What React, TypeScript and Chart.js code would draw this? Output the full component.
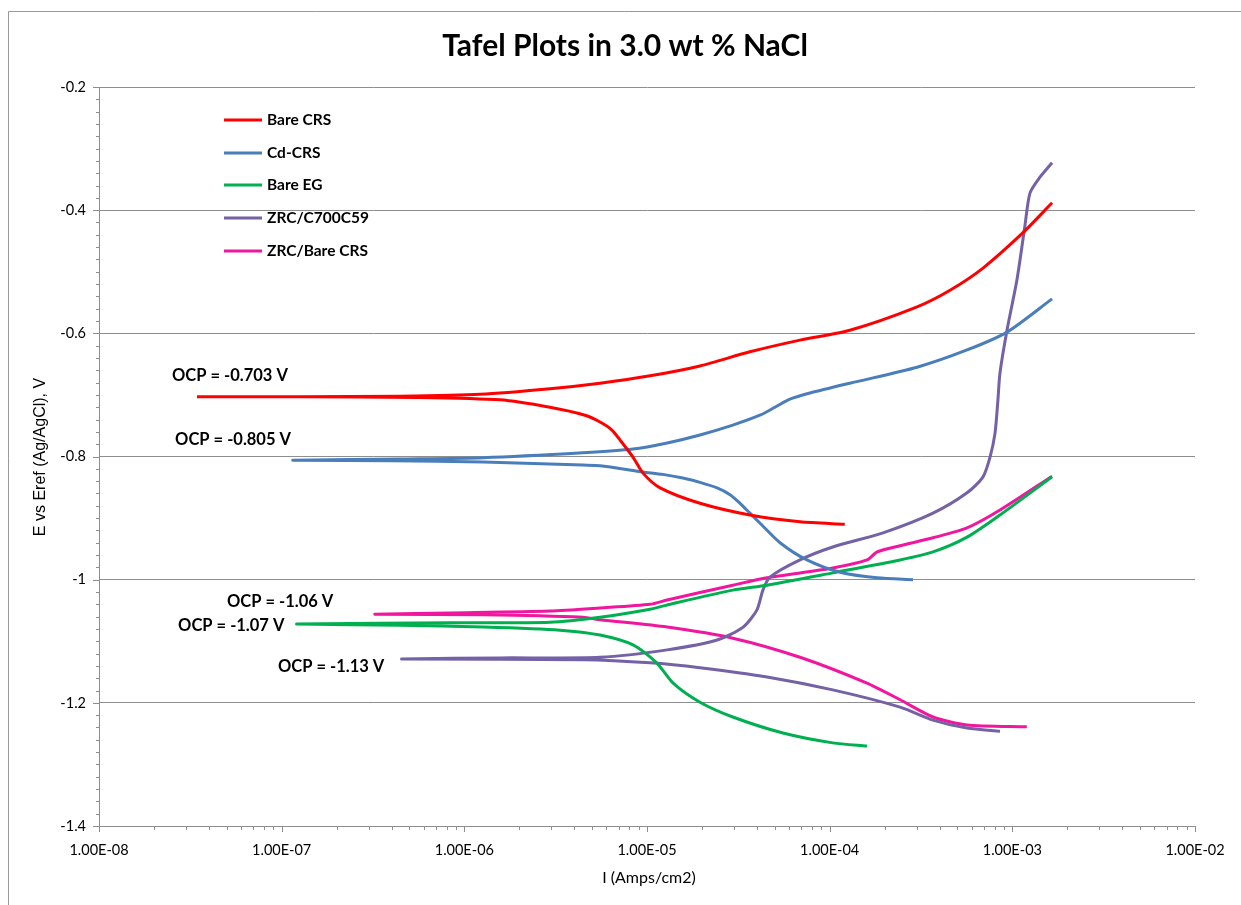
import { useEffect, useRef } from "react";
import { Chart, registerables } from "chart.js";

Chart.register(...registerables);

// ---------- data (current in A/cm2, potential in V vs Ag/AgCl) ----------
const seriesLabels = ["Bare CRS", "Cd-CRS", "Bare EG", "ZRC/C700C59", "ZRC/Bare CRS"];
const seriesColors = ["#FF0000", "#4A7EBB", "#00AF50", "#7461A6", "#F0179E"];

const bareCrsCurrent = [1.21e-4, 6.88e-5, 3.66e-5, 1.95e-5, 1.18e-5, 9.51e-6, 8.38e-6, 7.11e-6, 6.43e-6, 5.53e-6, 4.58e-6, 2.94e-6, 1.57e-6, 5.51e-7, 1.26e-7, 3.44e-8, 1.26e-7, 4.44e-7, 1.22e-6, 2.94e-6, 5.53e-6, 1.04e-5, 1.95e-5, 3.66e-5, 6.88e-5, 1.29e-4, 3.01e-4, 4.56e-4, 6.91e-4, 1.14e-3, 1.65e-3];
const bareCrsPotential = [-0.910, -0.906, -0.895, -0.876, -0.851, -0.827, -0.801, -0.773, -0.757, -0.744, -0.733, -0.720, -0.708, -0.704, -0.703, -0.703, -0.703, -0.702, -0.699, -0.690, -0.681, -0.669, -0.653, -0.630, -0.611, -0.595, -0.557, -0.530, -0.494, -0.437, -0.388];

const cdCrsCurrent = [2.86e-4, 1.82e-4, 1.14e-4, 7.51e-5, 5.35e-5, 4.15e-5, 3.66e-5, 3.23e-5, 2.85e-5, 2.42e-5, 1.95e-5, 1.57e-5, 1.22e-5, 9.51e-6, 5.53e-6, 4.46e-6, 1.27e-6, 4.0e-7, 1.15e-7, 4.44e-7, 1.27e-6, 4.46e-6, 8.38e-6, 1.29e-5, 1.95e-5, 2.95e-5, 4.15e-5, 5.02e-5, 6.06e-5, 7.8e-5, 1.29e-4, 3.01e-4, 5.65e-4, 9.35e-4, 1.65e-3];
const cdCrsPotential = [-1.000, -0.997, -0.988, -0.968, -0.940, -0.908, -0.892, -0.876, -0.862, -0.851, -0.842, -0.835, -0.829, -0.825, -0.815, -0.814, -0.809, -0.807, -0.806, -0.804, -0.802, -0.794, -0.788, -0.778, -0.765, -0.749, -0.733, -0.720, -0.707, -0.697, -0.681, -0.655, -0.627, -0.598, -0.544];

const bareEgCurrent = [1.60e-4, 1.04e-4, 5.55e-5, 2.95e-5, 1.95e-5, 1.39e-5, 1.13e-5, 8.38e-6, 5.53e-6, 3.34e-6, 1.27e-6, 4.44e-7, 1.21e-7, 8.34e-7, 2.94e-6, 5.53e-6, 1.04e-5, 1.29e-5, 2.95e-5, 4.54e-5, 1.04e-4, 2.43e-4, 3.68e-4, 5.65e-4, 8.56e-4, 1.65e-3];
const bareEgPotential = [-1.270, -1.265, -1.249, -1.223, -1.199, -1.168, -1.135, -1.106, -1.090, -1.082, -1.077, -1.074, -1.072, -1.070, -1.069, -1.061, -1.048, -1.041, -1.017, -1.009, -0.989, -0.968, -0.955, -0.931, -0.895, -0.833];

const zrcC700Current = [8.56e-4, 5.65e-4, 3.68e-4, 2.43e-4, 1.04e-4, 4.54e-5, 1.95e-5, 1.04e-5, 4.46e-6, 4.56e-7, 1.57e-6, 5.53e-6, 1.29e-5, 2.42e-5, 3.36e-5, 4.00e-5, 4.31e-5, 4.71e-5, 6.88e-5, 1.04e-4, 1.96e-4, 3.68e-4, 5.65e-4, 6.91e-4, 7.55e-4, 8.04e-4, 8.34e-4, 8.56e-4, 9.35e-4, 1.06e-3, 1.17e-3, 1.25e-3, 1.42e-3, 1.65e-3];
const zrcC700Potential = [-1.246, -1.241, -1.228, -1.207, -1.179, -1.158, -1.143, -1.135, -1.130, -1.129, -1.127, -1.126, -1.114, -1.098, -1.077, -1.049, -1.017, -0.996, -0.968, -0.947, -0.924, -0.892, -0.859, -0.833, -0.801, -0.762, -0.708, -0.664, -0.595, -0.513, -0.427, -0.372, -0.346, -0.323];

const zrcBareCrsCurrent = [1.20e-3, 5.65e-4, 3.68e-4, 2.43e-4, 1.60e-4, 6.88e-5, 2.95e-5, 1.29e-5, 5.53e-6, 4.46e-6, 1.27e-6, 3.24e-7, 8.34e-7, 2.94e-6, 5.53e-6, 1.04e-5, 1.29e-5, 2.95e-5, 4.54e-5, 1.04e-4, 1.60e-4, 1.82e-4, 2.43e-4, 3.68e-4, 5.65e-4, 8.56e-4, 1.65e-3];
const zrcBareCrsPotential = [-1.239, -1.236, -1.223, -1.195, -1.168, -1.126, -1.095, -1.077, -1.065, -1.061, -1.057, -1.056, -1.054, -1.051, -1.046, -1.040, -1.033, -1.009, -0.997, -0.981, -0.968, -0.955, -0.945, -0.932, -0.916, -0.887, -0.832];

const seriesCurrents = [bareCrsCurrent, cdCrsCurrent, bareEgCurrent, zrcC700Current, zrcBareCrsCurrent];
const seriesPotentials = [bareCrsPotential, cdCrsPotential, bareEgPotential, zrcC700Potential, zrcBareCrsPotential];

// OCP annotations anchored in data space (left edge of text, vertical middle)
const ocpTexts = ["OCP = -0.703 V", "OCP = -0.805 V", "OCP = -1.06 V", "OCP = -1.07 V", "OCP = -1.13 V"];
const ocpCurrents = [2.51e-8, 2.61e-8, 5.02e-8, 2.71e-8, 9.55e-8];
const ocpPotentials = [-0.669, -0.772, -1.035, -1.075, -1.142];

const xDecades = [1e-8, 1e-7, 1e-6, 1e-5, 1e-4, 1e-3, 1e-2];
const yMin = -1.4;
const yMax = -0.2;
const yStep = 0.2;

const TITLE = "Tafel Plots in 3.0 wt % NaCl";
const X_TITLE = "I (Amps/cm2)";
const Y_TITLE = "E vs Eref (Ag/AgCl), V";

const SANS = "Lato, 'Open Sans', sans-serif";
const GRID = "#8E8E8E";

function fmtExp(v: number): string {
  const e = Math.round(Math.log10(v));
  const sign = e < 0 ? "-" : "+";
  const a = Math.abs(e);
  return "1.00E" + sign + (a < 10 ? "0" + a : String(a));
}

const extras = {
  id: "extras",
  beforeDraw(chart: any) {
    const ctx = chart.ctx;
    ctx.save();
    ctx.fillStyle = "#ffffff";
    ctx.fillRect(0, 0, chart.width, chart.height);
    ctx.strokeStyle = "#9A9A9A";
    ctx.lineWidth = 1;
    ctx.beginPath();
    ctx.moveTo(8.5, chart.height);
    ctx.lineTo(8.5, 11.5);
    ctx.lineTo(chart.width, 11.5);
    ctx.stroke();
    ctx.restore();
  },
  afterDraw(chart: any) {
    const ctx = chart.ctx;
    const xs = chart.scales.x;
    const ys = chart.scales.y;
    const area = chart.chartArea;
    ctx.save();
    // tick marks
    ctx.strokeStyle = GRID;
    ctx.lineWidth = 1;
    ctx.beginPath();
    for (let d = -8; d <= -2; d++) {
      for (let k = 1; k <= 9; k++) {
        const v = k * Math.pow(10, d);
        if (v > 1.0001e-2) break;
        const px = Math.round(xs.getPixelForValue(v)) + 0.5;
        const len = k === 1 ? 6 : 4;
        ctx.moveTo(px, area.bottom);
        ctx.lineTo(px, area.bottom + len);
      }
    }
    for (let i = 0; i <= 60; i++) {
      const v = yMin + i * 0.02;
      const py = Math.round(ys.getPixelForValue(v)) + 0.5;
      const len = i % 10 === 0 ? 6 : 3;
      ctx.moveTo(area.left - len, py);
      ctx.lineTo(area.left, py);
    }
    ctx.stroke();

    // title
    ctx.fillStyle = "#000";
    ctx.textBaseline = "middle";
    ctx.textAlign = "center";
    ctx.font = `bold 30px ${SANS}`;
    ctx.fillText(TITLE, 625, 46);
    // x title
    ctx.font = `16px ${SANS}`;
    ctx.fillText(X_TITLE, 649, 878);
    // y title
    ctx.save();
    ctx.translate(41, 457);
    ctx.rotate(-Math.PI / 2);
    ctx.font = `16px 'Liberation Sans', Arial, sans-serif`;
    ctx.fillText(Y_TITLE, 0, 0);
    ctx.restore();

    // legend
    ctx.textAlign = "left";
    ctx.font = `bold 15.5px ${SANS}`;
    const rowY = [120, 153, 185, 218, 251];
    for (let i = 0; i < seriesLabels.length; i++) {
      ctx.strokeStyle = seriesColors[i];
      ctx.lineWidth = 3;
      ctx.beginPath();
      ctx.moveTo(224, rowY[i]);
      ctx.lineTo(262, rowY[i]);
      ctx.stroke();
      ctx.fillStyle = "#000";
      ctx.fillText(seriesLabels[i], 267, rowY[i]);
    }

    // OCP annotations
    ctx.font = `bold 16.5px ${SANS}`;
    for (let i = 0; i < ocpTexts.length; i++) {
      ctx.fillText(ocpTexts[i], xs.getPixelForValue(ocpCurrents[i]), ys.getPixelForValue(ocpPotentials[i]));
    }
    ctx.restore();
  },
};

export default function App() {
  const ref = useRef<HTMLCanvasElement>(null);
  useEffect(() => {
    if (!ref.current) return;
    const datasets = seriesLabels.map((label, i) => ({
      label,
      data: seriesCurrents[i].map((c, j) => ({ x: c, y: seriesPotentials[i][j] })),
      borderColor: seriesColors[i],
      backgroundColor: seriesColors[i],
      borderWidth: 3,
      pointRadius: 0,
      showLine: true,
      tension: 0.25,
      fill: false,
    }));
    const chart = new Chart(ref.current, {
      type: "scatter",
      data: { datasets },
      plugins: [extras],
      options: {
        animation: false,
        responsive: false,
        events: [],
        layout: { padding: { top: 87, right: 46, left: 0, bottom: 0 } },
        plugins: { legend: { display: false }, title: { display: false }, tooltip: { enabled: false } },
        scales: {
          x: {
            type: "logarithmic",
            min: 1e-8,
            max: 1e-2,
            afterBuildTicks: (s: any) => {
              s.ticks = xDecades.map((v) => ({ value: v, major: true }));
            },
            afterFit: (s: any) => {
              s.height = 79;
            },
            grid: { display: true, drawOnChartArea: false, drawTicks: false },
            border: { display: true, color: GRID, width: 1 },
            ticks: {
              autoSkip: false,
              maxRotation: 0,
              padding: 16,
              color: "#000",
              font: { family: SANS, size: 14.5 },
              callback: (v: any) => fmtExp(Number(v)),
            },
          },
          y: {
            type: "linear",
            min: yMin,
            max: yMax,
            afterFit: (s: any) => {
              s.width = 99;
            },
            grid: { color: GRID, drawTicks: false, lineWidth: 1 },
            border: { display: true, color: GRID, width: 1 },
            ticks: {
              stepSize: yStep,
              padding: 13,
              color: "#000",
              font: { family: SANS, size: 14.5 },
              callback: (v: any) => String(Number(Number(v).toFixed(1))),
            },
          },
        },
      },
    });
    return () => chart.destroy();
  }, []);
  return (
    <div style={{ position: "fixed", left: 0, top: 0, width: 1241, height: 905, background: "#fff" }}>
      <canvas ref={ref} width={1241} height={905} style={{ display: "block", width: 1241, height: 905 }} />
    </div>
  );
}
